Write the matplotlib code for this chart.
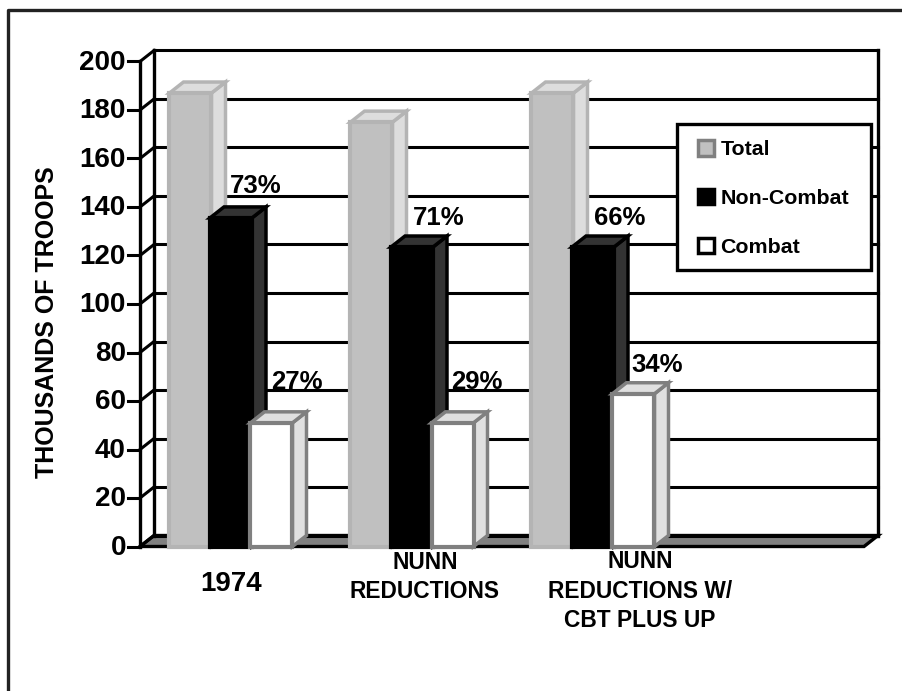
import matplotlib
matplotlib.use("Agg")
from matplotlib import pyplot as plt
from matplotlib.patches import Patch, Polygon, Rectangle

plt.rcParams['font.family'] = ['Liberation Sans', 'DejaVu Sans']
plt.rcParams['font.weight'] = 'bold'

series_names = ['Total', 'Non-Combat', 'Combat']
total = [187, 175, 187]
non_combat = [135.5, 123.5, 123.5]
combat = [51, 51, 63]
pct_non_combat = ['73%', '71%', '66%']
pct_combat = ['27%', '29%', '34%']
y_ticks = list(range(0, 201, 20))

W, H = 903, 691
fig = plt.figure(figsize=(W / 100, H / 100), dpi=100)
ax = fig.add_axes([140 / W, (H - 546.5) / H, 724 / W, 485 / H])
ax.set_xlim(0, 4)
ax.set_ylim(0, 200)
ax.axis('off')

# depth of the fake 3d, in data units
dx = 14 / 181
dy = 11 / 2.425
bar_w = 42 / 181
step = 40.5 / 181
offset = 29.5 / 181

# outer frame, only left and top
fig.add_artist(plt.Line2D([8 / W, 8 / W, 1], [0, (H - 10) / H, (H - 10) / H], color='#222222', lw=2.4))

# floor
ax.add_patch(Polygon([(0, 0), (dx, dy), (4 + dx, dy), (4, 0)], closed=True, fc='#808080',
                     ec='black', lw=2.4, clip_on=False, zorder=1, joinstyle='miter'))

# walls and grid
for v in y_ticks:
    ax.plot([0, dx], [v, v + dy], color='black', lw=2.2, clip_on=False, zorder=1.5)
    ax.plot([-12 / 181, 0], [v, v], color='black', lw=2.2, clip_on=False, zorder=1.5)
    ax.plot([dx, 4 + dx], [v + dy, v + dy], color='black', lw=2.2, clip_on=False, zorder=1.5)
    ax.text(-14 / 181, v - 0.6, str(v), ha='right', va='center', fontsize=20, clip_on=False)
ax.plot([0, 0], [0, 200], color='black', lw=2.4, clip_on=False, zorder=1.5)
ax.plot([dx, dx], [dy, 200 + dy], color='black', lw=2.4, clip_on=False, zorder=1.5)
ax.plot([4 + dx, 4 + dx], [dy, 200 + dy], color='black', lw=2.4, clip_on=False, zorder=1.5)


def bar3d(x, h, front, side, edge, z):
    ax.bar(x, h, width=bar_w, align='edge', color=front, edgecolor=edge, linewidth=3, zorder=z, clip_on=False)
    ax.add_patch(Polygon([(x + bar_w, 0), (x + bar_w + dx, dy), (x + bar_w + dx, h + dy), (x + bar_w, h)],
                         closed=True, fc=side, ec=edge, lw=2.5, zorder=z - 0.1, clip_on=False))
    ax.add_patch(Polygon([(x, h), (x + dx, h + dy), (x + bar_w + dx, h + dy), (x + bar_w, h)],
                         closed=True, fc=side, ec=edge, lw=2.5, zorder=z - 0.1, clip_on=False))


for i in range(3):
    x0 = i + offset
    bar3d(x0, total[i], '#c0c0c0', '#dddddd', '#b4b4b4', 3)
    bar3d(x0 + step, non_combat[i], '#000000', '#333333', '#000000', 4)
    bar3d(x0 + 2 * step, combat[i], '#ffffff', '#e0e0e0', '#808080', 5)

# percent labels were placed by hand in the original
pct_x = [256, 439, 620, 297, 477, 657]
pct_y = [148.7, 135.5, 135.5, 68, 68, 75]
for t, px, v in zip(pct_non_combat + pct_combat, pct_x, pct_y):
    ax.text((px - 140) / 181, v, t, ha='center', va='center', fontsize=18.5, zorder=7, clip_on=False)

# category labels
fig.text(231 / W, 1 - 584 / H, '1974', ha='center', va='center', fontsize=20)
fig.text(425 / W, 1 - 577 / H, 'NUNN\nREDUCTIONS', ha='center', va='center', fontsize=16.4, linespacing=1.35)
fig.text(640 / W, 1 - 591 / H, 'NUNN\nREDUCTIONS W/\nCBT PLUS UP', ha='center', va='center', fontsize=16.4,
         linespacing=1.35)

fig.text(47 / W, 1 - 322 / H, 'THOUSANDS OF TROOPS', rotation=90, ha='center', va='center', fontsize=18)

# legend box drawn apart, its padding is not even
ax.add_patch(Rectangle((677 / W, 1 - 270 / H), 194 / W, 146 / H, transform=fig.transFigure, fc='white',
                       ec='black', lw=2.4, zorder=9, clip_on=False))
handles = [Patch(fc='#c0c0c0', ec='#808080', lw=2.5),
           Patch(fc='#000000', ec='#000000', lw=2.5),
           Patch(fc='#ffffff', ec='#000000', lw=2.5)]
leg = ax.legend(handles, series_names, loc='upper left', bbox_to_anchor=(698 / W, 1 - 140 / H),
                bbox_transform=fig.transFigure, borderaxespad=0, fontsize=15.4, frameon=False,
                borderpad=0, labelspacing=1.38, handlelength=0.75, handleheight=0.75, handletextpad=0.3)
leg.set_zorder(10)

fig.savefig('out.png', dpi=100)
